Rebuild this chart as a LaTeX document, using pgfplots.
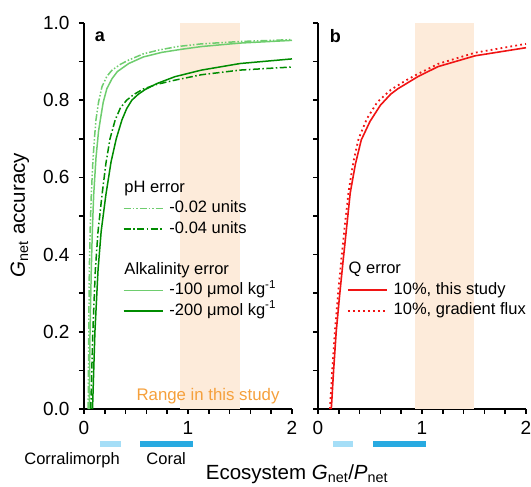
\documentclass[border=0pt]{standalone}
\usepackage{fontspec}
\setmainfont{Liberation Sans}
\usepackage{pgfplots}
\pgfplotsset{compat=1.18}
\definecolor{peach}{RGB}{253,235,218}
\definecolor{lgreen}{RGB}{110,205,110}
\definecolor{dgreen}{RGB}{0,140,0}
\definecolor{myred}{RGB}{240,20,20}
\definecolor{rangeorange}{RGB}{245,160,60}
\definecolor{lblue}{RGB}{165,222,247}
\definecolor{dblue}{RGB}{40,170,225}
\pgfplotsset{
 common/.style={
  scale only axis, width=208bp, height=386bp,
  xmin=0, xmax=2, ymin=0, ymax=1,
  axis lines=left, axis line style={-, line width=2.4bp, black},
  tick align=outside, xtick={0,1,2}, ytick={0,0.2,0.4,0.6,0.8,1},
  minor x tick num=4, minor y tick num=1,
  major tick length=5bp, minor tick length=5bp,
  every tick/.style={black, line width=1.5bp},
  /pgf/number format/assume math mode=true,
  tick label style={font=\fontsize{19bp}{21bp}\selectfont},
  xticklabel style={yshift=-4bp},
  yticklabel style={xshift=-6bp},
  clip=false,
  legend style={draw=none, fill=none, inner sep=0pt, outer sep=0pt, anchor=north west,
    row sep=5bp, column sep=6bp, font=\fontsize{16.5bp}{18bp}\selectfont,
    nodes={inner sep=0pt, text height=12bp, text depth=3.5bp}},
  legend cell align=left,
  legend image code/.code={\draw[##1] (0bp,0bp) -- (39bp,0bp);},
 },
 ldd/.style={lgreen, line width=1.5bp, dash pattern=on 7bp off 2bp on 1.5bp off 2bp on 1.5bp off 2bp},
 dd/.style={dgreen, line width=1.5bp, dash pattern=on 7bp off 2.5bp on 1.5bp off 2.5bp},
 rdot/.style={myred, line width=1.8bp, dash pattern=on 1.8bp off 3.2bp},
}
\begin{document}
\begin{tikzpicture}
% ---------- panel a ----------
\begin{axis}[common, at={(0bp,0bp)}, anchor=south west,
  yticklabel style={/pgf/number format/.cd, fixed, fixed zerofill, precision=1},
  legend style={at={(axis cs:0.375,0.593)}}]
\addplot[fill=peach, draw=none, forget plot] coordinates {(0.92,0) (1.5,0) (1.5,1) (0.92,1)} -- cycle;
\addplot[ldd, forget plot] coordinates {
(0.040,0.00) (0.046,0.20) (0.051,0.36) (0.060,0.47) (0.070,0.554) (0.085,0.64)
(0.100,0.70) (0.115,0.749) (0.140,0.795) (0.173,0.835) (0.22,0.862) (0.27,0.878)
(0.35,0.893) (0.43,0.904) (0.57,0.920) (0.72,0.930) (0.90,0.939) (1.13,0.946)
(1.50,0.952) (2.00,0.957)};
\addplot[lgreen, line width=1.5bp, forget plot] coordinates {
(0.050,0.00) (0.058,0.20) (0.070,0.36) (0.080,0.46) (0.093,0.554) (0.115,0.65)
(0.140,0.72) (0.157,0.749) (0.185,0.795) (0.22,0.830) (0.27,0.856) (0.32,0.874)
(0.43,0.895) (0.57,0.912) (0.75,0.924) (0.94,0.932) (1.13,0.939) (1.50,0.948)
(2.00,0.955)};
\addplot[dd, forget plot] coordinates {
(0.065,0.00) (0.085,0.20) (0.109,0.36) (0.135,0.46) (0.173,0.554) (0.21,0.635)
(0.25,0.70) (0.30,0.749) (0.35,0.780) (0.41,0.800) (0.48,0.815) (0.57,0.829)
(0.70,0.841) (0.875,0.852) (1.13,0.866) (1.50,0.878) (2.00,0.886)};
\addplot[dgreen, line width=1.5bp, forget plot] coordinates {
(0.082,0.00) (0.105,0.20) (0.135,0.36) (0.165,0.46) (0.21,0.554) (0.26,0.64)
(0.31,0.70) (0.365,0.749) (0.41,0.778) (0.46,0.800) (0.52,0.815) (0.59,0.828)
(0.70,0.843) (0.875,0.861) (1.13,0.878) (1.50,0.895) (2.00,0.907)};
% bars below axis
\addplot[lblue, line width=6.3bp, forget plot] coordinates {(0.15,-0.0907) (0.36,-0.0907)};
\addplot[dblue, line width=6.3bp, forget plot] coordinates {(0.54,-0.0907) (1.05,-0.0907)};
% legend
\addlegendimage{empty legend}\addlegendentry{\hspace{-45bp}pH error}
\addlegendimage{ldd}\addlegendentry{-0.02 units}
\addlegendimage{dd}\addlegendentry{-0.04 units}
\addlegendimage{empty legend}\addlegendentry{}
\addlegendimage{empty legend}\addlegendentry{\hspace{-45bp}Alkalinity error}
\addlegendimage{lgreen, line width=1.5bp}\addlegendentry{-100 μmol kg\textsuperscript{-1}}
\addlegendimage{dgreen, line width=1.5bp}\addlegendentry{-200 μmol kg\textsuperscript{-1}}
\node[anchor=west, font=\fontsize{18bp}{18bp}\selectfont\bfseries] at (axis cs:0.07,0.965) {a};
\node[anchor=base east, text=rangeorange, font=\fontsize{16.8bp}{18bp}\selectfont] at (axis cs:1.913,0.023) {Range in this study};
\node[anchor=base, font=\fontsize{16.5bp}{18bp}\selectfont] at (axis cs:-0.115,-0.145) {Corralimorph};
\node[anchor=base, font=\fontsize{16.5bp}{18bp}\selectfont] at (axis cs:0.79,-0.145) {Coral};
\end{axis}
% ---------- panel b ----------
\begin{axis}[common, at={(234bp,0bp)}, anchor=south west, yticklabels={},
  legend style={at={(axis cs:0.278,0.381)}}]
\addplot[fill=peach, draw=none, forget plot] coordinates {(0.93,0) (1.5,0) (1.5,1) (0.93,1)} -- cycle;
\addplot[myred, line width=1.6bp, forget plot] coordinates {
(0.128,0.00) (0.150,0.10) (0.175,0.20) (0.208,0.295) (0.24,0.38) (0.275,0.47)
(0.31,0.56) (0.36,0.635) (0.416,0.697) (0.50,0.745) (0.60,0.787) (0.70,0.816)
(0.77,0.830) (0.96,0.861) (1.154,0.887) (1.51,0.915) (2.00,0.936)};
\addplot[rdot, forget plot] coordinates {
(0.115,0.00) (0.137,0.10) (0.162,0.20) (0.192,0.295) (0.225,0.39) (0.26,0.48)
(0.295,0.565) (0.34,0.64) (0.39,0.70) (0.47,0.752) (0.57,0.795) (0.70,0.827)
(0.85,0.852) (0.96,0.868) (1.154,0.894) (1.51,0.923) (2.00,0.946)};
\addplot[lblue, line width=6.3bp, forget plot] coordinates {(0.145,-0.0907) (0.34,-0.0907)};
\addplot[dblue, line width=6.3bp, forget plot] coordinates {(0.53,-0.0907) (1.04,-0.0907)};
\addlegendimage{empty legend}\addlegendentry{\hspace{-45bp}Q error}
\addlegendimage{myred, line width=1.6bp}\addlegendentry{10\%, this study}
\addlegendimage{rdot}\addlegendentry{10\%, gradient flux}
\node[anchor=west, font=\fontsize{18bp}{18bp}\selectfont\bfseries] at (axis cs:0.08,0.965) {b};
\end{axis}
% axis titles
\node[anchor=base, font=\fontsize{20.5bp}{22bp}\selectfont] at (213bp,-70bp) {Ecosystem \textit{G}\textsubscript{net}/\textit{P}\textsubscript{net}};
\node[anchor=base, rotate=90, font=\fontsize{20.5bp}{22bp}\selectfont] at (-59bp,194bp) {\textit{G}\textsubscript{net} accuracy};
\pgfresetboundingbox
\useasboundingbox (-84bp,-78bp) rectangle (447bp,409bp);
\end{tikzpicture}
\end{document}
